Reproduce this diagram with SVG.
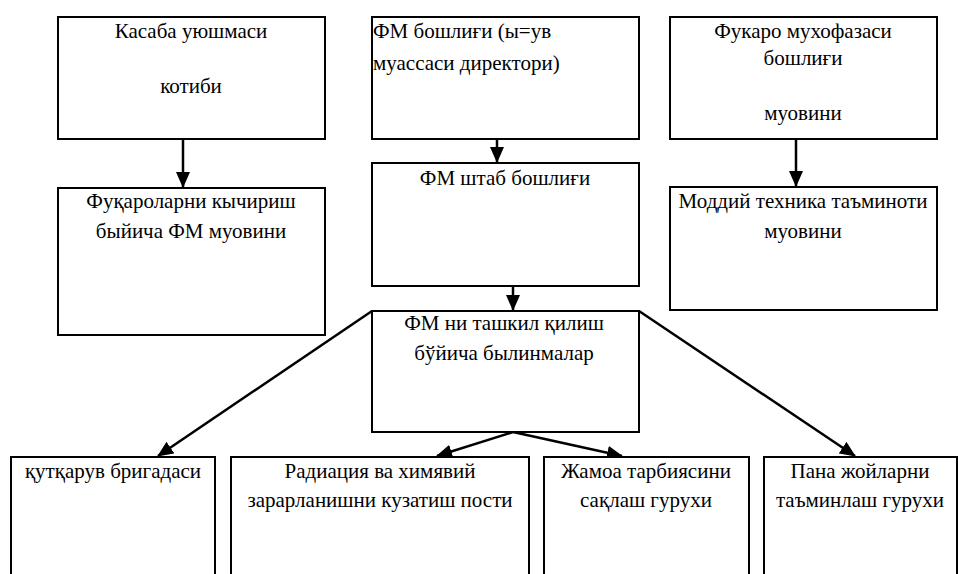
<svg xmlns="http://www.w3.org/2000/svg" width="958" height="574" viewBox="0 0 958 574">
<style>
.box{fill:#fff;stroke:#000;stroke-width:2}
text{font-family:'Liberation Serif','Times New Roman','DejaVu Serif',serif;font-size:21px;fill:#000;text-anchor:middle}
text.l{text-anchor:start}
.c{stroke:#000;stroke-width:2.5;fill:none;marker-end:url(#ah)}
</style>
<defs>
<marker id="ah" markerUnits="userSpaceOnUse" markerWidth="16" markerHeight="14" refX="15" refY="7" orient="auto">
<path d="M0,0 L16,7 L0,14 Z" fill="#000"/>
</marker>
</defs>
<rect width="958" height="574" fill="#fff"/>
<g id="connectors">
<line class="c" x1="183" y1="139" x2="183" y2="187"/>
<line class="c" x1="497" y1="139" x2="497" y2="162"/>
<line class="c" x1="796" y1="139" x2="796" y2="186"/>
<line class="c" x1="513" y1="286" x2="513" y2="310"/>
<line class="c" x1="372" y1="311" x2="158" y2="456"/>
<line class="c" x1="639" y1="311" x2="855" y2="456"/>
<line class="c" x1="513" y1="432" x2="437" y2="456"/>
<line class="c" x1="513" y1="432" x2="622" y2="456"/>
</g>
<g id="n1"><rect class="box" x="58" y="17" width="267" height="122"/>
<text x="191" y="38">Касаба уюшмаси</text>
<text x="191" y="93">котиби</text></g>
<g id="n2"><rect class="box" x="372" y="17" width="267" height="122"/>
<text class="l" x="373" y="38">ФМ бошлиғи (ы=ув</text>
<text class="l" x="373" y="70">муассаси директори)</text></g>
<g id="n3"><rect class="box" x="670" y="17" width="267" height="122"/>
<text x="803" y="38">Фукаро мухофазаси</text>
<text x="803" y="65">бошлиғи</text>
<text x="803" y="120">муовини</text></g>
<g id="n4"><rect class="box" x="58" y="188" width="267" height="147"/>
<text x="191" y="208">Фуқароларни кычириш</text>
<text x="191" y="238">быйича ФМ муовини</text></g>
<g id="n5"><rect class="box" x="372" y="163" width="267" height="123"/>
<text x="505" y="185">ФМ штаб бошлиғи</text></g>
<g id="n6"><rect class="box" x="670" y="187" width="267" height="123"/>
<text x="803" y="208">Моддий техника таъминоти</text>
<text x="803" y="238">муовини</text></g>
<g id="n7"><rect class="box" x="372" y="311" width="267" height="121"/>
<text x="504" y="330">ФМ ни ташкил қилиш</text>
<text x="504" y="360">бўйича былинмалар</text></g>
<g id="n8"><rect class="box" x="11" y="457" width="204" height="130"/>
<text x="113" y="478">қутқарув бригадаси</text></g>
<g id="n9"><rect class="box" x="231" y="457" width="298" height="130"/>
<text x="380" y="478">Радиация ва химявий</text>
<text x="380" y="507">зарарланишни кузатиш пости</text></g>
<g id="n10"><rect class="box" x="544" y="457" width="205" height="130"/>
<text x="646" y="478">Жамоа тарбиясини</text>
<text x="646" y="507">сақлаш гурухи</text></g>
<g id="n11"><rect class="box" x="764" y="457" width="193" height="130"/>
<text x="860" y="478">Пана жойларни</text>
<text x="860" y="507">таъминлаш гурухи</text></g>
</svg>
